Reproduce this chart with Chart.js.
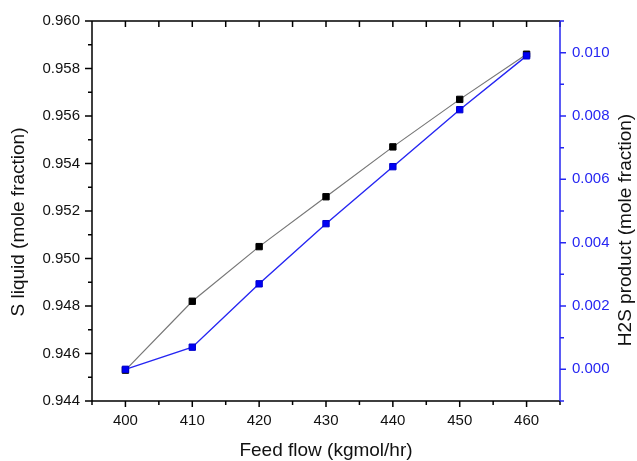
<!DOCTYPE html>
<html>
<head>
<meta charset="utf-8">
<script src="https://cdn.jsdelivr.net/npm/chart.js@4.4.0/dist/chart.umd.min.js"></script>
<style>
  body { margin: 0; background: #fff; }
  #wrap { width: 637px; height: 461px; position: relative; }
</style>
</head>
<body>
<div id="wrap"><canvas id="chart"></canvas></div>
<script>
// data
const feedFlow = [400, 410, 420, 430, 440, 450, 460];
const sLiquid = [0.9453, 0.9482, 0.9505, 0.9526, 0.9547, 0.9567, 0.9586];
const h2sProduct = [0.0000, 0.0007, 0.0027, 0.0046, 0.0064, 0.0082, 0.0099];

const black = "#000000";
const blue = "#2626f2";
const font = "'Liberation Sans', Arial, sans-serif";

function points(xs, ys) {
  let data = [];
  for (let i = 0; i < xs.length; i++) data.push({ x: xs[i], y: ys[i] });
  return data;
}

// frame, ticks (major + minor) and axis titles, Origin style
const framePlugin = {
  id: "frame",
  afterDraw(chart) {
    const ctx = chart.ctx;
    const a = chart.chartArea;
    const x = chart.scales.x, yl = chart.scales.y, yr = chart.scales.y2;
    ctx.save();
    ctx.lineWidth = 1.5;

    // left, bottom, top
    ctx.strokeStyle = black;
    ctx.beginPath();
    ctx.moveTo(a.left, a.top); ctx.lineTo(a.left, a.bottom);
    ctx.moveTo(a.left, a.bottom); ctx.lineTo(a.right, a.bottom);
    ctx.moveTo(a.left, a.top); ctx.lineTo(a.right, a.top);
    // bottom ticks (out) and top ticks (in)
    for (let v = 395; v <= 465; v += 5) {
      const px = x.getPixelForValue(v);
      const len = v % 10 === 0 ? 6 : 4;
      ctx.moveTo(px, a.bottom); ctx.lineTo(px, a.bottom + len);
      ctx.moveTo(px, a.top); ctx.lineTo(px, a.top + 6);
    }
    // left ticks
    for (let i = 0; i <= 16; i++) {
      const py = yl.getPixelForValue(0.944 + i * 0.001);
      const len = i % 2 === 0 ? 7 : 4;
      ctx.moveTo(a.left, py); ctx.lineTo(a.left - len, py);
    }
    ctx.stroke();

    // right axis in blue
    ctx.strokeStyle = blue;
    ctx.beginPath();
    ctx.moveTo(a.right, a.top); ctx.lineTo(a.right, a.bottom);
    for (let i = 0; i <= 12; i++) {
      const py = yr.getPixelForValue(-0.001 + i * 0.001);
      const len = i % 2 === 1 ? 6 : 4;
      ctx.moveTo(a.right, py); ctx.lineTo(a.right + len, py);
    }
    ctx.stroke();

    // titles
    ctx.font = "19px " + font;
    ctx.textAlign = "center";
    ctx.textBaseline = "middle";
    ctx.fillStyle = "#111";
    ctx.fillText("Feed flow (kgmol/hr)", (a.left + a.right) / 2, 451);

    ctx.save();
    ctx.translate(19, 222);
    ctx.rotate(-Math.PI / 2);
    ctx.fillText("S liquid (mole fraction)", 0, 0);
    ctx.restore();

    ctx.save();
    ctx.translate(626, 230);
    ctx.rotate(-Math.PI / 2);
    ctx.fillText("H2S product (mole fraction)", 0, 0);
    ctx.restore();

    ctx.restore();
  },
};

const ctx = document.getElementById("chart");

new Chart(ctx, {
  type: "line",
  data: {
    datasets: [
      {
        label: "S liquid",
        data: points(feedFlow, sLiquid),
        yAxisID: "y",
        borderColor: "#777777",
        borderWidth: 1.2,
        pointStyle: "rect",
        pointRadius: 4.5,
        pointBackgroundColor: black,
        pointBorderColor: black,
        pointBorderWidth: 1,
        tension: 0,
        order: 1,
      },
      {
        label: "H2S product",
        data: points(feedFlow, h2sProduct),
        yAxisID: "y2",
        borderColor: blue,
        borderWidth: 1.4,
        pointStyle: "rect",
        pointRadius: 4.5,
        pointBackgroundColor: "#0000f5",
        pointBorderColor: "#0000cc",
        pointBorderWidth: 1,
        tension: 0,
        order: 0,
      },
    ],
  },
  options: {
    responsive: true,
    maintainAspectRatio: false,
    animation: false,
    layout: { padding: { top: 18, left: 0, right: 0, bottom: 0 } },
    plugins: { legend: { display: false }, tooltip: { enabled: false } },
    scales: {
      x: {
        type: "linear",
        min: 395,
        max: 465,
        grid: { display: false, drawTicks: false },
        border: { display: false },
        afterBuildTicks: (s) => {
          s.ticks = feedFlow.map((v) => ({ value: v }));
        },
        afterFit: (s) => { s.height = 60; },
        ticks: {
          padding: 11,
          color: "#111",
          font: { family: font, size: 15 },
          maxRotation: 0,
          callback: (v) => v,
        },
      },
      y: {
        position: "left",
        min: 0.944,
        max: 0.960,
        grid: { display: false, drawTicks: false },
        border: { display: false },
        afterFit: (s) => { s.width = 92; },
        ticks: {
          stepSize: 0.002,
          padding: 12,
          color: "#111",
          font: { family: font, size: 15 },
          callback: (v) => v.toFixed(3),
        },
      },
      y2: {
        position: "right",
        min: -0.001,
        max: 0.011,
        grid: { display: false, drawTicks: false },
        border: { display: false },
        afterBuildTicks: (s) => {
          let t = [];
          for (let i = 0; i <= 5; i++) t.push({ value: i * 0.002 });
          s.ticks = t;
        },
        afterFit: (s) => { s.width = 77; },
        ticks: {
          padding: 12,
          color: blue,
          font: { family: font, size: 15 },
          callback: (v) => v.toFixed(3),
        },
      },
    },
  },
  plugins: [framePlugin],
});
</script>
</body>
</html>
